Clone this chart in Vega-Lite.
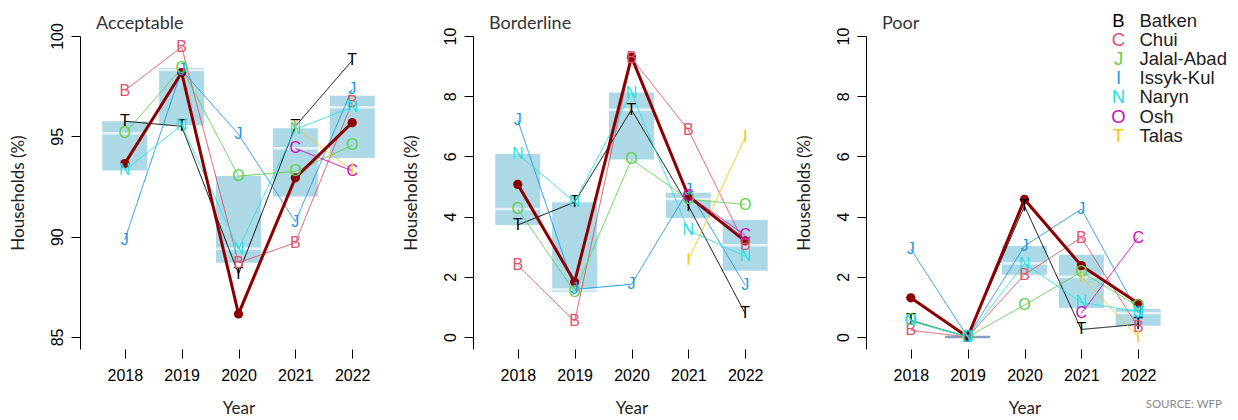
{
  "$schema": "https://vega.github.io/schema/vega-lite/v6.json",
  "background": "white",
  "padding": {"left": 9, "top": 12, "right": 3, "bottom": 4},
  "bounds": "flush",
  "spacing": 76,
  "title": {"text": "SOURCE: WFP", "orient": "bottom", "anchor": "end", "frame": "bounds", "font": "Lato", "fontSize": 11.5, "fontWeight": "normal", "color": "#8a8a8a", "offset": 0, "dx": -5, "dy": -17},
  "datasets": {
    "fcs": [
      {"panel": "Acceptable", "year": 2018, "province": "Batken", "letter": "T", "value": 95.75},
      {"panel": "Acceptable", "year": 2019, "province": "Batken", "letter": "T", "value": 95.5},
      {"panel": "Acceptable", "year": 2020, "province": "Batken", "letter": "T", "value": 88.15},
      {"panel": "Acceptable", "year": 2021, "province": "Batken", "letter": "T", "value": 95.5},
      {"panel": "Acceptable", "year": 2022, "province": "Batken", "letter": "T", "value": 98.78},
      {"panel": "Acceptable", "year": 2018, "province": "Chui", "letter": "B", "value": 97.28},
      {"panel": "Acceptable", "year": 2019, "province": "Chui", "letter": "B", "value": 99.45},
      {"panel": "Acceptable", "year": 2020, "province": "Chui", "letter": "B", "value": 88.7},
      {"panel": "Acceptable", "year": 2021, "province": "Chui", "letter": "B", "value": 89.7},
      {"panel": "Acceptable", "year": 2022, "province": "Chui", "letter": "B", "value": 96.7},
      {"panel": "Acceptable", "year": 2018, "province": "Jalal-Abad", "letter": "O", "value": 95.15},
      {"panel": "Acceptable", "year": 2019, "province": "Jalal-Abad", "letter": "O", "value": 98.4},
      {"panel": "Acceptable", "year": 2020, "province": "Jalal-Abad", "letter": "O", "value": 93.02},
      {"panel": "Acceptable", "year": 2021, "province": "Jalal-Abad", "letter": "O", "value": 93.25},
      {"panel": "Acceptable", "year": 2022, "province": "Jalal-Abad", "letter": "O", "value": 94.55},
      {"panel": "Acceptable", "year": 2018, "province": "Issyk-Kul", "letter": "J", "value": 89.85},
      {"panel": "Acceptable", "year": 2019, "province": "Issyk-Kul", "letter": "J", "value": 98.3},
      {"panel": "Acceptable", "year": 2020, "province": "Issyk-Kul", "letter": "J", "value": 95.1},
      {"panel": "Acceptable", "year": 2021, "province": "Issyk-Kul", "letter": "J", "value": 90.75},
      {"panel": "Acceptable", "year": 2022, "province": "Issyk-Kul", "letter": "J", "value": 97.35},
      {"panel": "Acceptable", "year": 2018, "province": "Naryn", "letter": "N", "value": 93.3},
      {"panel": "Acceptable", "year": 2019, "province": "Naryn", "letter": "N", "value": 95.55},
      {"panel": "Acceptable", "year": 2020, "province": "Naryn", "letter": "N", "value": 89.4},
      {"panel": "Acceptable", "year": 2021, "province": "Naryn", "letter": "N", "value": 95.35},
      {"panel": "Acceptable", "year": 2022, "province": "Naryn", "letter": "N", "value": 96.45},
      {"panel": "Acceptable", "year": 2021, "province": "Osh", "letter": "C", "value": 94.4},
      {"panel": "Acceptable", "year": 2022, "province": "Osh", "letter": "C", "value": 93.28},
      {"panel": "Acceptable", "year": 2021, "province": "Talas", "letter": "I", "value": 95.45},
      {"panel": "Acceptable", "year": 2022, "province": "Talas", "letter": "I", "value": 93.3},
      {"panel": "Acceptable", "year": 2018, "province": "Average", "letter": "", "value": 93.64},
      {"panel": "Acceptable", "year": 2019, "province": "Average", "letter": "", "value": 98.18},
      {"panel": "Acceptable", "year": 2020, "province": "Average", "letter": "", "value": 86.15},
      {"panel": "Acceptable", "year": 2021, "province": "Average", "letter": "", "value": 92.93},
      {"panel": "Acceptable", "year": 2022, "province": "Average", "letter": "", "value": 95.68},

      {"panel": "Borderline", "year": 2018, "province": "Batken", "letter": "T", "value": 3.72},
      {"panel": "Borderline", "year": 2019, "province": "Batken", "letter": "T", "value": 4.48},
      {"panel": "Borderline", "year": 2020, "province": "Batken", "letter": "T", "value": 7.55},
      {"panel": "Borderline", "year": 2021, "province": "Batken", "letter": "T", "value": 4.36},
      {"panel": "Borderline", "year": 2022, "province": "Batken", "letter": "T", "value": 0.78},
      {"panel": "Borderline", "year": 2018, "province": "Chui", "letter": "B", "value": 2.38},
      {"panel": "Borderline", "year": 2019, "province": "Chui", "letter": "B", "value": 0.52},
      {"panel": "Borderline", "year": 2020, "province": "Chui", "letter": "B", "value": 9.27},
      {"panel": "Borderline", "year": 2021, "province": "Chui", "letter": "B", "value": 6.88},
      {"panel": "Borderline", "year": 2022, "province": "Chui", "letter": "B", "value": 3.05},
      {"panel": "Borderline", "year": 2018, "province": "Jalal-Abad", "letter": "O", "value": 4.25},
      {"panel": "Borderline", "year": 2019, "province": "Jalal-Abad", "letter": "O", "value": 1.5},
      {"panel": "Borderline", "year": 2020, "province": "Jalal-Abad", "letter": "O", "value": 5.9},
      {"panel": "Borderline", "year": 2021, "province": "Jalal-Abad", "letter": "O", "value": 4.58},
      {"panel": "Borderline", "year": 2022, "province": "Jalal-Abad", "letter": "O", "value": 4.4},
      {"panel": "Borderline", "year": 2018, "province": "Issyk-Kul", "letter": "J", "value": 7.2},
      {"panel": "Borderline", "year": 2019, "province": "Issyk-Kul", "letter": "J", "value": 1.58},
      {"panel": "Borderline", "year": 2020, "province": "Issyk-Kul", "letter": "J", "value": 1.75},
      {"panel": "Borderline", "year": 2021, "province": "Issyk-Kul", "letter": "J", "value": 4.88},
      {"panel": "Borderline", "year": 2022, "province": "Issyk-Kul", "letter": "J", "value": 1.72},
      {"panel": "Borderline", "year": 2018, "province": "Naryn", "letter": "N", "value": 6.08},
      {"panel": "Borderline", "year": 2019, "province": "Naryn", "letter": "N", "value": 4.48},
      {"panel": "Borderline", "year": 2020, "province": "Naryn", "letter": "N", "value": 8.12},
      {"panel": "Borderline", "year": 2021, "province": "Naryn", "letter": "N", "value": 3.54},
      {"panel": "Borderline", "year": 2022, "province": "Naryn", "letter": "N", "value": 2.68},
      {"panel": "Borderline", "year": 2021, "province": "Osh", "letter": "C", "value": 4.7},
      {"panel": "Borderline", "year": 2022, "province": "Osh", "letter": "C", "value": 3.38},
      {"panel": "Borderline", "year": 2021, "province": "Talas", "letter": "I", "value": 2.55},
      {"panel": "Borderline", "year": 2022, "province": "Talas", "letter": "I", "value": 6.63},
      {"panel": "Borderline", "year": 2018, "province": "Average", "letter": "", "value": 5.07},
      {"panel": "Borderline", "year": 2019, "province": "Average", "letter": "", "value": 1.83},
      {"panel": "Borderline", "year": 2020, "province": "Average", "letter": "", "value": 9.3},
      {"panel": "Borderline", "year": 2021, "province": "Average", "letter": "", "value": 4.68},
      {"panel": "Borderline", "year": 2022, "province": "Average", "letter": "", "value": 3.19},

      {"panel": "Poor", "year": 2018, "province": "Batken", "letter": "T", "value": 0.55},
      {"panel": "Poor", "year": 2019, "province": "Batken", "letter": "T", "value": 0},
      {"panel": "Poor", "year": 2020, "province": "Batken", "letter": "T", "value": 4.35},
      {"panel": "Poor", "year": 2021, "province": "Batken", "letter": "T", "value": 0.25},
      {"panel": "Poor", "year": 2022, "province": "Batken", "letter": "T", "value": 0.42},
      {"panel": "Poor", "year": 2018, "province": "Chui", "letter": "B", "value": 0.22},
      {"panel": "Poor", "year": 2019, "province": "Chui", "letter": "B", "value": 0},
      {"panel": "Poor", "year": 2020, "province": "Chui", "letter": "B", "value": 2.07},
      {"panel": "Poor", "year": 2021, "province": "Chui", "letter": "B", "value": 3.3},
      {"panel": "Poor", "year": 2022, "province": "Chui", "letter": "B", "value": 0.32},
      {"panel": "Poor", "year": 2018, "province": "Jalal-Abad", "letter": "O", "value": 0.55},
      {"panel": "Poor", "year": 2019, "province": "Jalal-Abad", "letter": "O", "value": 0},
      {"panel": "Poor", "year": 2020, "province": "Jalal-Abad", "letter": "O", "value": 1.06},
      {"panel": "Poor", "year": 2021, "province": "Jalal-Abad", "letter": "O", "value": 2.16},
      {"panel": "Poor", "year": 2022, "province": "Jalal-Abad", "letter": "O", "value": 1.02},
      {"panel": "Poor", "year": 2018, "province": "Issyk-Kul", "letter": "J", "value": 2.92},
      {"panel": "Poor", "year": 2019, "province": "Issyk-Kul", "letter": "J", "value": 0},
      {"panel": "Poor", "year": 2020, "province": "Issyk-Kul", "letter": "J", "value": 3.02},
      {"panel": "Poor", "year": 2021, "province": "Issyk-Kul", "letter": "J", "value": 4.25},
      {"panel": "Poor", "year": 2022, "province": "Issyk-Kul", "letter": "J", "value": 0.8},
      {"panel": "Poor", "year": 2018, "province": "Naryn", "letter": "N", "value": 0.52},
      {"panel": "Poor", "year": 2019, "province": "Naryn", "letter": "N", "value": 0},
      {"panel": "Poor", "year": 2020, "province": "Naryn", "letter": "N", "value": 2.44},
      {"panel": "Poor", "year": 2021, "province": "Naryn", "letter": "N", "value": 1.15},
      {"panel": "Poor", "year": 2022, "province": "Naryn", "letter": "N", "value": 0.84},
      {"panel": "Poor", "year": 2021, "province": "Osh", "letter": "C", "value": 0.78},
      {"panel": "Poor", "year": 2022, "province": "Osh", "letter": "C", "value": 3.3},
      {"panel": "Poor", "year": 2021, "province": "Talas", "letter": "I", "value": 2.0},
      {"panel": "Poor", "year": 2022, "province": "Talas", "letter": "I", "value": 0.0},
      {"panel": "Poor", "year": 2018, "province": "Average", "letter": "", "value": 1.3},
      {"panel": "Poor", "year": 2019, "province": "Average", "letter": "", "value": 0},
      {"panel": "Poor", "year": 2020, "province": "Average", "letter": "", "value": 4.57},
      {"panel": "Poor", "year": 2021, "province": "Average", "letter": "", "value": 2.37},
      {"panel": "Poor", "year": 2022, "province": "Average", "letter": "", "value": 1.12}
    ]
  },
  "hconcat": [
    {
      "width": 317, "height": 313,
      "title": {"text": "Acceptable", "offset": -10.5},
      "data": {"name": "fcs"},
      "transform": [{"filter": "datum.panel === 'Acceptable'"}],
      "encoding": {
        "x": {"field": "year", "type": "quantitative", "scale": {"domain": [2017.3, 2022.7], "nice": false, "zero": false}, "axis": {"values": [2018, 2019, 2020, 2021, 2022], "format": "d", "title": "Year"}},
        "y": {"field": "value", "type": "quantitative", "scale": {"domain": [84.4, 100], "nice": false, "zero": false}, "axis": {"values": [85, 90, 95, 100], "title": "Households (%)"}}
      },
      "layer": [
        {"transform": [{"filter": "datum.province !== 'Average'"}], "mark": {"type": "boxplot", "orient": "vertical", "extent": "min-max", "size": 45, "color": "#ADD8E6", "box": {"strokeWidth": 0}, "median": {"color": "white", "thickness": 2.5, "strokeWidth": 0}, "rule": false, "ticks": false, "outliers": false}},
        {"transform": [{"filter": "datum.province !== 'Average'"}], "mark": {"type": "line", "strokeWidth": 1},
         "encoding": {
           "color": {"field": "province", "type": "nominal", "scale": {"domain": ["Batken", "Chui", "Jalal-Abad", "Issyk-Kul", "Naryn", "Osh", "Talas"], "range": ["#000000", "#DF536B", "#61D04F", "#2297E6", "#28E2E5", "#CD0BBC", "#F5C710"]},
             "legend": {"orient": "none", "legendX": 1020, "legendY": -24, "title": null, "padding": 0, "symbolSize": 0, "symbolOpacity": 0, "symbolStrokeWidth": 0, "labelOffset": 0, "labelAlign": "center", "labelFont": "Liberation Sans", "labelFontSize": 18.5, "rowPadding": 0.05, "labelExpr": "substring(datum.value, 0, 1)", "encode": {"labels": {"update": {"fill": {"scale": "color", "field": "value"}}}}}},
           "strokeDash": {"field": "province", "type": "nominal", "scale": {"domain": ["Batken", "Chui", "Jalal-Abad", "Issyk-Kul", "Naryn", "Osh", "Talas", "Average"], "range": [[1, 0], [1, 0], [1, 0], [1, 0], [1, 0], [1, 0], [1, 0], [1, 0]]},
             "legend": {"orient": "none", "legendX": 1041, "legendY": -24, "title": null, "padding": 0, "values": ["Batken", "Chui", "Jalal-Abad", "Issyk-Kul", "Naryn", "Osh", "Talas"], "symbolSize": 0, "symbolOpacity": 0, "symbolStrokeWidth": 0, "labelOffset": 0, "labelAlign": "left", "labelFont": "Liberation Sans", "labelFontSize": 18.5, "labelColor": "#222222", "rowPadding": 0.05}},
           "order": {"field": "year"}
         }},
        {"transform": [{"filter": "datum.province === 'Average'"}], "mark": {"type": "line", "color": "#8B0000", "strokeWidth": 3}, "encoding": {"order": {"field": "year"}}},
        {"transform": [{"filter": "datum.province === 'Average'"}], "mark": {"type": "circle", "color": "#8B0000", "opacity": 1, "size": 85}},
        {"transform": [{"filter": "datum.province !== 'Average'"}], "mark": {"type": "text", "font": "Liberation Sans", "fontSize": 16, "align": "center", "baseline": "middle"},
         "encoding": {"text": {"field": "letter"}, "color": {"field": "province", "type": "nominal"}}},
        {"data": {"values": [{}]}, "mark": {"type": "rule", "color": "black", "strokeWidth": 1},
         "encoding": {"x": {"datum": 2017.3}, "x2": {"datum": 2022}, "y": {"datum": 84.4}}}
      ]
    },
    {
      "width": 317, "height": 313,
      "title": {"text": "Borderline", "offset": -6},
      "data": {"name": "fcs"},
      "transform": [{"filter": "datum.panel === 'Borderline'"}],
      "encoding": {
        "x": {"field": "year", "type": "quantitative", "scale": {"domain": [2017.3, 2022.7], "nice": false, "zero": false}, "axis": {"values": [2018, 2019, 2020, 2021, 2022], "format": "d", "title": "Year"}},
        "y": {"field": "value", "type": "quantitative", "scale": {"domain": [-0.4, 10], "nice": false, "zero": false}, "axis": {"values": [0, 2, 4, 6, 8, 10], "title": "Households (%)"}}
      },
      "layer": [
        {"transform": [{"filter": "datum.province !== 'Average'"}], "mark": {"type": "boxplot", "orient": "vertical", "extent": "min-max", "size": 45, "color": "#ADD8E6", "box": {"strokeWidth": 0}, "median": {"color": "white", "thickness": 2.5, "strokeWidth": 0}, "rule": false, "ticks": false, "outliers": false}},
        {"transform": [{"filter": "datum.province !== 'Average'"}], "mark": {"type": "line", "strokeWidth": 1},
         "encoding": {"color": {"field": "province", "type": "nominal"}, "strokeDash": {"field": "province", "type": "nominal"}, "order": {"field": "year"}}},
        {"transform": [{"filter": "datum.province === 'Average'"}], "mark": {"type": "line", "color": "#8B0000", "strokeWidth": 3}, "encoding": {"order": {"field": "year"}}},
        {"transform": [{"filter": "datum.province === 'Average'"}], "mark": {"type": "circle", "color": "#8B0000", "opacity": 1, "size": 85}},
        {"transform": [{"filter": "datum.province !== 'Average'"}], "mark": {"type": "text", "font": "Liberation Sans", "fontSize": 16, "align": "center", "baseline": "middle"},
         "encoding": {"text": {"field": "letter"}, "color": {"field": "province", "type": "nominal"}}},
        {"data": {"values": [{}]}, "mark": {"type": "rule", "color": "black", "strokeWidth": 1},
         "encoding": {"x": {"datum": 2017.3}, "x2": {"datum": 2022}, "y": {"datum": -0.4}}}
      ]
    },
    {
      "width": 317, "height": 313,
      "title": {"text": "Poor", "offset": -6},
      "data": {"name": "fcs"},
      "transform": [{"filter": "datum.panel === 'Poor'"}],
      "encoding": {
        "x": {"field": "year", "type": "quantitative", "scale": {"domain": [2017.3, 2022.7], "nice": false, "zero": false}, "axis": {"values": [2018, 2019, 2020, 2021, 2022], "format": "d", "title": "Year"}},
        "y": {"field": "value", "type": "quantitative", "scale": {"domain": [-0.4, 10], "nice": false, "zero": false}, "axis": {"values": [0, 2, 4, 6, 8, 10], "title": "Households (%)"}}
      },
      "layer": [
        {"transform": [{"filter": "datum.province !== 'Average'"}], "mark": {"type": "boxplot", "orient": "vertical", "extent": "min-max", "size": 45, "color": "#ADD8E6", "box": {"strokeWidth": 0}, "median": {"color": "white", "thickness": 2.5, "strokeWidth": 0}, "rule": false, "ticks": false, "outliers": false}},
        {"transform": [{"filter": "datum.province !== 'Average'"}], "mark": {"type": "line", "strokeWidth": 1},
         "encoding": {"color": {"field": "province", "type": "nominal"}, "strokeDash": {"field": "province", "type": "nominal"}, "order": {"field": "year"}}},
        {"transform": [{"filter": "datum.province === 'Average'"}], "mark": {"type": "line", "color": "#8B0000", "strokeWidth": 3}, "encoding": {"order": {"field": "year"}}},
        {"transform": [{"filter": "datum.province === 'Average'"}], "mark": {"type": "circle", "color": "#8B0000", "opacity": 1, "size": 85}},
        {"transform": [{"filter": "datum.province !== 'Average'"}], "mark": {"type": "text", "font": "Liberation Sans", "fontSize": 16, "align": "center", "baseline": "middle"},
         "encoding": {"text": {"field": "letter"}, "color": {"field": "province", "type": "nominal"}}},
        {"data": {"values": [{}]}, "mark": {"type": "rule", "color": "black", "strokeWidth": 1},
         "encoding": {"x": {"datum": 2017.3}, "x2": {"datum": 2022}, "y": {"datum": -0.4}}}
      ]
    }
  ],
  "config": {
    "view": {"stroke": null},
    "title": {"font": "Lato", "fontSize": 18, "fontWeight": "normal", "color": "#333333", "anchor": "start", "frame": "group", "dx": 16},
    "axis": {"grid": false, "domainColor": "black", "tickColor": "black", "labelColor": "black", "labelFont": "Liberation Sans", "labelFontSize": 16, "titleFont": "Lato", "titleFontSize": 17, "titleFontWeight": "normal", "titleColor": "#222222", "tickSize": 9},
    "axisX": {"domain": false, "labelPadding": 9, "titlePadding": 17},
    "axisY": {"labelAngle": 270, "labelAlign": "center", "labelBaseline": "bottom", "labelPadding": 6, "titlePadding": 22}
  }
}
